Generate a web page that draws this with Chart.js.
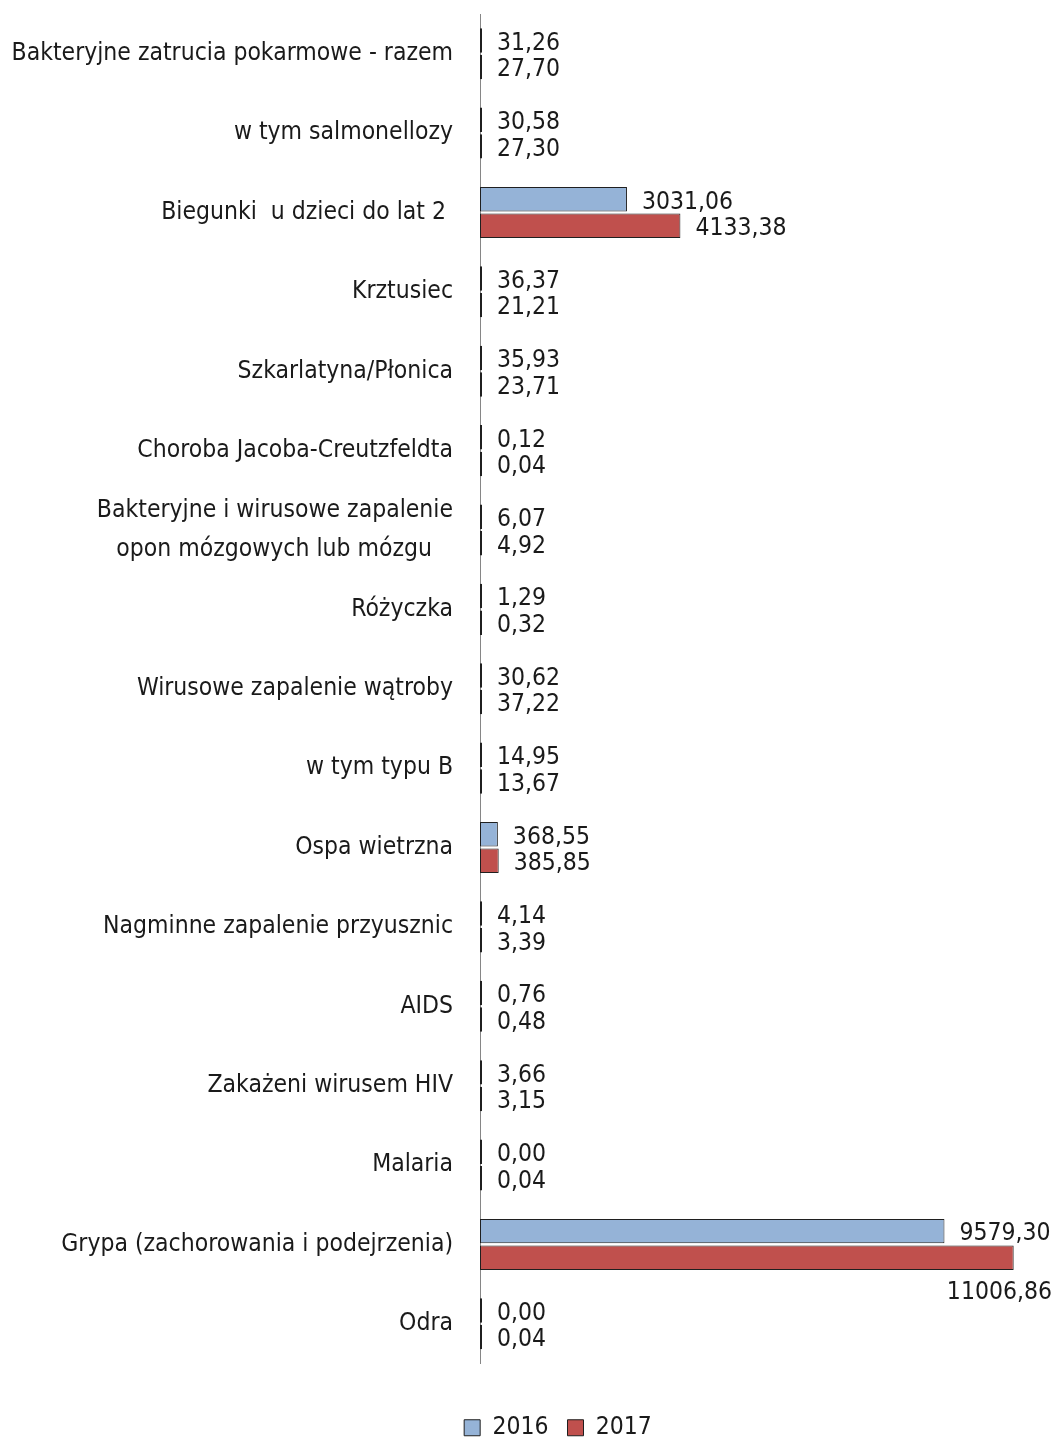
<!DOCTYPE html>
<html lang="pl">
<head>
<meta charset="utf-8">
<title>Zachorowania 2016-2017</title>
<script src="https://cdn.jsdelivr.net/npm/chart.js@4.4.1/dist/chart.umd.min.js"></script>
<style>
  html, body { margin: 0; padding: 0; background: #fff; }
  #wrap { width: 1057px; height: 1440px; }
</style>
</head>
<body>
<div id="wrap"><canvas id="chart"></canvas></div>
<script>
// kategorie (od gory)
const categories = [
  "Bakteryjne zatrucia pokarmowe - razem",
  "w tym salmonellozy",
  "Biegunki  u dzieci do lat 2 ",
  "Krztusiec",
  "Szkarlatyna/Płonica",
  "Choroba Jacoba-Creutzfeldta",
  ["Bakteryjne i wirusowe zapalenie", "opon mózgowych lub mózgu   "],
  "Różyczka",
  "Wirusowe zapalenie wątroby",
  "w tym typu B",
  "Ospa wietrzna",
  "Nagminne zapalenie przyusznic",
  "AIDS",
  "Zakażeni wirusem HIV",
  "Malaria",
  "Grypa (zachorowania i podejrzenia)",
  "Odra"
];

const values2016 = [31.26, 30.58, 3031.06, 36.37, 35.93, 0.12, 6.07, 1.29, 30.62, 14.95, 368.55, 4.14, 0.76, 3.66, 0.00, 9579.30, 0.00];
const values2017 = [27.70, 27.30, 4133.38, 21.21, 23.71, 0.04, 4.92, 0.32, 37.22, 13.67, 385.85, 3.39, 0.48, 3.15, 0.04, 11006.86, 0.04];

const seriesLabels = ["2016", "2017"];

const FONT = "'Liberation Sans Narrow', 'DejaVu Sans Condensed', 'Liberation Sans', sans-serif";
const FONT_SIZE = 24.5;

// etykiety wartosci przy slupkach
const valueLabels = {
  id: "valueLabels",
  afterDatasetsDraw(chart) {
    const ctx = chart.ctx;
    ctx.save();
    ctx.font = FONT_SIZE + "px " + FONT;
    ctx.fillStyle = "#1a1a1a";
    ctx.textBaseline = "middle";
    chart.data.datasets.forEach((ds, i) => {
      const meta = chart.getDatasetMeta(i);
      meta.data.forEach((bar, j) => {
        const txt = ds.data[j].toFixed(2).replace(".", ",");
        const w = ctx.measureText(txt).width;
        let x = bar.x + 15;
        let y = bar.y + 3;
        if (x + w > chart.width) {
          // nie miesci sie - pod slupkiem
          ctx.textAlign = "right";
          x = chart.width - 5;
          y = bar.y + 35;
        } else {
          ctx.textAlign = "left";
        }
        ctx.fillText(txt, x, y);
      });
    });
    ctx.restore();
  }
};

Chart.defaults.font.family = FONT;
Chart.defaults.font.size = FONT_SIZE;
Chart.defaults.color = "#1a1a1a";

new Chart(document.getElementById("chart"), {
  type: "bar",
  data: {
    labels: categories,
    datasets: [
      {
        label: seriesLabels[0],
        data: values2016,
        backgroundColor: "#95b3d7",
        borderColor: "#1f1f1f",
        borderWidth: 1,
        borderSkipped: false,
        minBarLength: 2
      },
      {
        label: seriesLabels[1],
        data: values2017,
        backgroundColor: "#c0504d",
        borderColor: "#1f1f1f",
        borderWidth: 1,
        borderSkipped: false,
        minBarLength: 2
      }
    ]
  },
  options: {
    indexAxis: "y",
    responsive: true,
    maintainAspectRatio: false,
    animation: false,
    categoryPercentage: 0.67,
    barPercentage: 0.92,
    // prawy margines ujemny -> legenda przesunieta w prawo jak w oryginale
    layout: { padding: { left: 10, right: -49, top: 14, bottom: -10 } },
    plugins: {
      legend: {
        position: "bottom",
        labels: {
          boxWidth: 16,
          boxHeight: 16,
          padding: 19,
          font: { size: FONT_SIZE }
        }
      },
      tooltip: { enabled: false }
    },
    scales: {
      x: {
        min: 0,
        max: 11900,
        display: true,
        grid: { display: false },
        border: { display: false },
        ticks: { display: false },
        afterFit: (scale) => { scale.height = 33; }
      },
      y: {
        grid: { display: false, drawTicks: false },
        border: { display: true, color: "#868686", width: 1 },
        ticks: {
          autoSkip: false,
          padding: 27,
          font: { size: FONT_SIZE, lineHeight: 1.58 }
        },
        afterFit: (scale) => {
          scale.width = 470;
          scale.paddingTop = 0;
          scale.paddingBottom = 0;
        }
      }
    }
  },
  plugins: [valueLabels]
});
</script>
</body>
</html>
